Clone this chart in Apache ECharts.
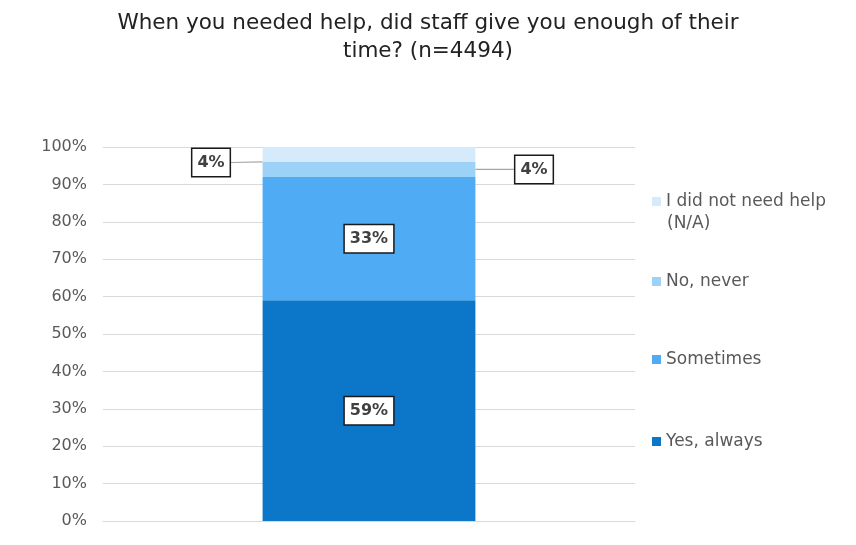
<!DOCTYPE html>
<html>
<head>
<meta charset="utf-8">
<script src="https://cdn.jsdelivr.net/npm/echarts@6/dist/echarts.min.js"></script>
<style>
  html, body { margin: 0; padding: 0; background: #fff; }
  #chart { width: 856px; height: 545px; }
</style>
</head>
<body>
<div id="chart"></div>
<script>
// Survey question data (percent of respondents)
const categories = [''];
const seriesNames = ['Yes, always', 'Sometimes', 'No, never', 'I did not need help (N/A)'];
const yesAlways = [59];
const sometimes = [33];
const noNever = [4];
const notNeeded = [4];
const yTicks = [0, 10, 20, 30, 40, 50, 60, 70, 80, 90, 100];

const colors = ['#0c77c8', '#4eabf4', '#9dd2f7', '#d5eafa'];
const FONT = 'DejaVu Sans';

const boxLabel = {
  show: true,
  formatter: p => p.value + '%',
  fontFamily: FONT,
  fontSize: 16,
  fontWeight: 'bold',
  color: '#404040',
  backgroundColor: '#fff',
  borderColor: '#1a1a1a',
  borderWidth: 1.5,
  padding: [6, 5, 5, 5]
};

const valueSets = [yesAlways, sometimes, noNever, notNeeded];
const shifts = [null, null, { dx: 165, dy: 0 }, { dx: -158, dy: 8 }];

const series = seriesNames.map((name, i) => {
  const s = {
    name: name,
    type: 'bar',
    stack: 'total',
    barWidth: '40%',
    data: valueSets[i],
    itemStyle: { color: colors[i] },
    label: Object.assign({ position: 'inside' }, boxLabel),
    emphasis: { disabled: true }
  };
  if (shifts[i]) {
    s.labelLayout = shifts[i];
    s.labelLine = { show: true, lineStyle: { color: '#a6a6a6', width: 1.2 } };
  }
  return s;
});

// one legend block per item so the spacing follows the layout
const legendTops = [428, 346, 268, 188];
const legendText = { fontFamily: FONT, fontSize: 17, color: '#595959' };
const legends = seriesNames.map((name, i) => ({
  data: [{ name: name, icon: 'rect' }],
  orient: 'vertical',
  left: 647,
  top: legendTops[i],
  itemWidth: 9,
  itemHeight: 9,
  itemGap: 0,
  selectedMode: false,
  formatter: n => n === 'I did not need help (N/A)' ? 'I did not need help' : n,
  textStyle: legendText
}));

const chart = echarts.init(document.getElementById('chart'), null, { renderer: 'canvas' });
chart.setOption({
  animation: false,
  color: colors,
  title: {
    text: 'When you needed help, did staff give you enough of their\ntime? (n=4494)',
    left: 'center',
    top: 4,
    textStyle: { fontFamily: FONT, fontSize: 21.5, fontWeight: 'normal', color: '#222', lineHeight: 28 }
  },
  legend: legends,
  graphic: [{
    type: 'text',
    left: 667,
    top: 215,
    style: { text: '(N/A)', fontFamily: FONT, fontSize: 17, fill: '#595959' }
  }],
  grid: { left: 103, right: 221, top: 147, bottom: 24 },
  xAxis: {
    type: 'category',
    data: categories,
    axisLine: { lineStyle: { color: '#d9d9d9' } },
    axisTick: { show: false },
    axisLabel: { show: false }
  },
  yAxis: {
    type: 'value',
    min: yTicks[0],
    max: yTicks[yTicks.length - 1],
    interval: 10,
    axisLine: { show: false },
    axisTick: { show: false },
    splitLine: { lineStyle: { color: '#d9d9d9' } },
    axisLabel: {
      formatter: '{value}%',
      fontFamily: FONT,
      fontSize: 16,
      color: '#595959',
      margin: 16
    }
  },
  series: series
});
</script>
</body>
</html>
